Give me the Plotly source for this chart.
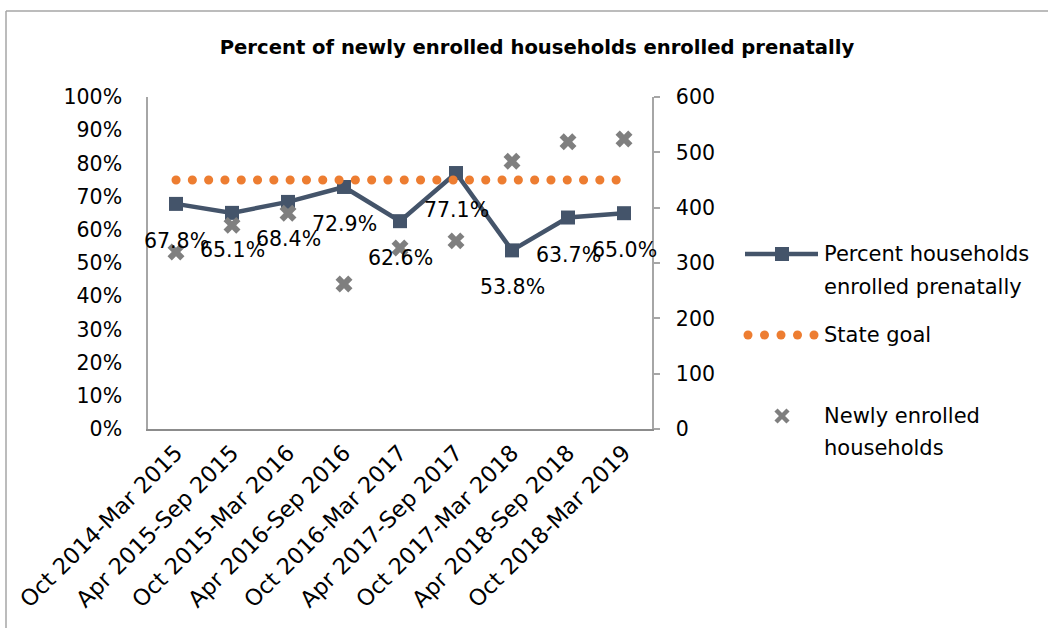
import plotly.graph_objects as go

# Reporting periods (category axis)
periods = [
    "Oct 2014-Mar 2015", "Apr 2015-Sep 2015", "Oct 2015-Mar 2016",
    "Apr 2016-Sep 2016", "Oct 2016-Mar 2017", "Apr 2017-Sep 2017",
    "Oct 2017-Mar 2018", "Apr 2018-Sep 2018", "Oct 2018-Mar 2019",
]
# Percent of households enrolled prenatally (%)
pct_prenatal = [67.8, 65.1, 68.4, 72.9, 62.6, 77.1, 53.8, 63.7, 65.0]
# State goal (%)
state_goal = [75, 75, 75, 75, 75, 75, 75, 75, 75]
# Newly enrolled households (count, right axis)
new_households = [320, 368, 390, 262, 327, 340, 484, 519, 524]

left_ticks = [0, 10, 20, 30, 40, 50, 60, 70, 80, 90, 100]
right_ticks = [0, 100, 200, 300, 400, 500, 600]

NAVY = "#44546A"
ORANGE = "#ED7D31"
GRAY = "#7F7F7F"
AXIS = "#A6A6A6"
FONT = "DejaVu Sans"
FS = 20.5

W, H = 1048, 628
L, R, T, B = 148, 652, 97, 429   # plot area in pixels


def px_x(px):
    return (px - L) / (R - L)


def px_y(py):
    return (B - py) / (B - T)


fig = go.Figure()

fig.add_trace(go.Scatter(
    x=periods, y=[v / 100 for v in pct_prenatal], mode="lines+markers",
    name="Percent households enrolled prenatally",
    line=dict(color=NAVY, width=4.5),
    marker=dict(symbol="square", size=14, color=NAVY),
    showlegend=False,
))
fig.add_trace(go.Scatter(
    x=periods, y=[v / 100 for v in state_goal], mode="lines",
    name="State goal",
    line=dict(color=ORANGE, width=9, dash="0.1px,16.2px"),
    showlegend=False,
))
fig.add_trace(go.Scatter(
    x=periods, y=new_households, mode="markers", yaxis="y2",
    name="Newly enrolled households",
    marker=dict(symbol="x", size=15, color=GRAY, line=dict(width=0)),
    showlegend=False,
))

# Data labels under each point of the percent series
annotations = []
for p, v in zip(periods, pct_prenatal):
    annotations.append(dict(
        x=p, y=v / 100, xref="x", yref="y", text=f"{v:.1f}%",
        showarrow=False, yshift=-37, xanchor="center", yanchor="middle",
        font=dict(family=FONT, size=FS, color="black"),
    ))

# Legend drawn beside the plot
leg_font = dict(family=FONT, size=FS + 0.5, color="black")
tx = px_x(822)
for text, py in [("Percent households", 254), ("enrolled prenatally", 287),
                 ("State goal", 335), ("Newly enrolled", 416), ("households", 448)]:
    annotations.append(dict(
        x=tx, y=px_y(py), xref="paper", yref="paper", text=text,
        showarrow=False, xanchor="left", yanchor="middle", font=leg_font,
    ))

shapes = [
    # chart frame (top and left edges)
    dict(type="line", xref="paper", yref="paper", x0=px_x(6), x1=px_x(1060),
         y0=px_y(11), y1=px_y(11), line=dict(color=AXIS, width=1.5)),
    dict(type="line", xref="paper", yref="paper", x0=px_x(6), x1=px_x(6),
         y0=px_y(11), y1=px_y(640), line=dict(color=AXIS, width=1.5)),
    # legend: percent line with square
    dict(type="line", xref="paper", yref="paper", x0=px_x(745), x1=px_x(818),
         y0=px_y(254), y1=px_y(254), line=dict(color=NAVY, width=4.5)),
    dict(type="rect", xref="paper", yref="paper", x0=px_x(775), x1=px_x(789),
         y0=px_y(247), y1=px_y(261), fillcolor=NAVY, line=dict(width=0)),
    # legend: cross
    dict(type="line", xref="paper", yref="paper", x0=px_x(776), x1=px_x(788),
         y0=px_y(410), y1=px_y(422), line=dict(color=GRAY, width=4.5)),
    dict(type="line", xref="paper", yref="paper", x0=px_x(776), x1=px_x(788),
         y0=px_y(422), y1=px_y(410), line=dict(color=GRAY, width=4.5)),
]
# legend: dotted goal line
for cx in [748, 764.5, 781, 797.5, 814]:
    shapes.append(dict(type="circle", xref="paper", yref="paper",
                       x0=px_x(cx - 4.5), x1=px_x(cx + 4.5),
                       y0=px_y(335 - 4.5), y1=px_y(335 + 4.5),
                       fillcolor=ORANGE, line=dict(width=0)))

fig.update_layout(
    width=W, height=H,
    margin=dict(l=L, r=W - R, t=T, b=H - B, pad=0),
    paper_bgcolor="white", plot_bgcolor="white",
    font=dict(family=FONT, size=FS, color="black"),
    title=dict(
        text="<b>Percent of newly enrolled households enrolled prenatally</b>",
        x=537 / W, y=1 - 47 / H, xanchor="center", yanchor="middle",
        font=dict(family=FONT, size=19.6, color="black"),
    ),
    xaxis=dict(
        type="category", range=[-0.5, len(periods) - 0.5],
        showline=True, linecolor="#8C8C8C", linewidth=1.5, mirror=False,
        showgrid=False, ticks="", tickangle=-45,
        tickfont=dict(family=FONT, size=22.5, color="black"),
    ),
    yaxis=dict(
        range=[0, 1], tickvals=[t / 100 for t in left_ticks],
        ticktext=[f"{t}%" for t in left_ticks],
        showline=True, linecolor=AXIS, linewidth=1.5,
        showgrid=False, zeroline=False, ticks="", ticklabelstandoff=20,
        tickfont=dict(family=FONT, size=FS, color="black"),
    ),
    yaxis2=dict(
        range=[0, 600], tickvals=right_ticks, overlaying="y", side="right",
        showline=True, linecolor=AXIS, linewidth=1.5,
        showgrid=False, zeroline=False, ticks="outside", ticklen=6,
        tickcolor=AXIS, tickwidth=1.5, ticklabelstandoff=12,
        tickfont=dict(family=FONT, size=FS, color="black"),
    ),
    annotations=annotations,
    shapes=shapes,
    showlegend=False,
)

# round caps turn the sparse dash pattern into round dots
post = """
var gd = document.getElementsByClassName('plotly-graph-div')[0];
gd.querySelectorAll('path.js-line').forEach(function(p){
  if ((p.style.stroke || '').indexOf('237, 125, 49') >= 0) {
    p.style.strokeLinecap = 'round';
  }
});
"""
fig.write_html("out.html", post_script=post)
